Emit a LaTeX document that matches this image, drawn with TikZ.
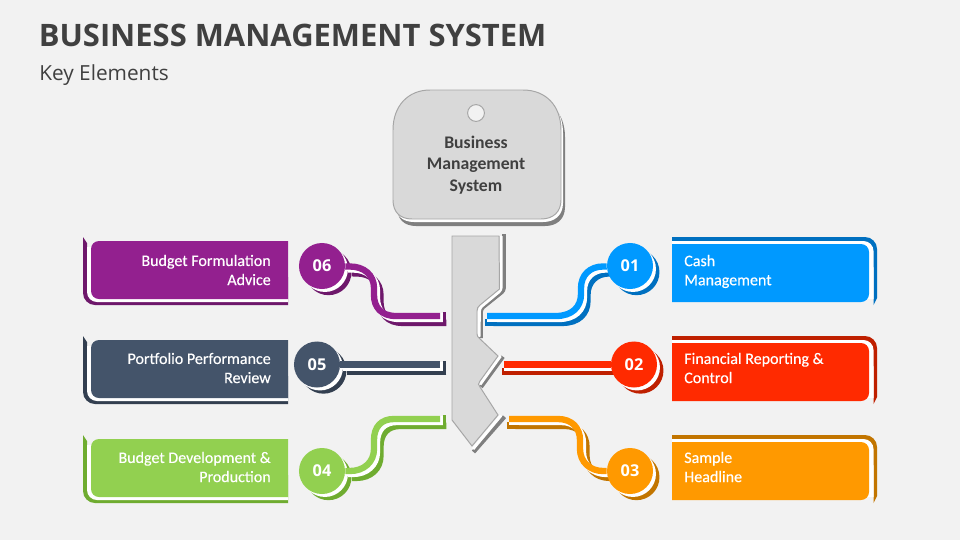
\documentclass[tikz,border=0pt]{standalone}
\usepackage{fontspec}
\setmainfont{Open Sans}
\newfontfamily\labelfont[FakeBold=0.35]{Carlito}
\newfontfamily\headfont{Carlito}
\usetikzlibrary{backgrounds}
\definecolor{bgc}{HTML}{F2F2F2}
\definecolor{inkc}{HTML}{404040}
\definecolor{keyc}{HTML}{D9D9D9}
\definecolor{keyl}{HTML}{A6A6A6}
\definecolor{keyd}{HTML}{7F7F7F}
\definecolor{bluem}{HTML}{0099FF}
\definecolor{blued}{HTML}{0070C0}
\definecolor{redm}{HTML}{FF2A00}
\definecolor{redd}{HTML}{BF2000}
\definecolor{orangem}{HTML}{FF9900}
\definecolor{oranged}{HTML}{C27500}
\definecolor{greenm}{HTML}{92D050}
\definecolor{greend}{HTML}{6FAC30}
\definecolor{slatem}{HTML}{44546A}
\definecolor{slated}{HTML}{333F50}
\definecolor{purplem}{HTML}{93208F}
\definecolor{purpled}{HTML}{6E186B}
\newcommand{\tie}[4]{
\begin{pgfonlayer}{background}
\fill [#2,transform canvas={xshift=4.6pt,yshift=-4.4pt}] (#3) circle (23);
\draw [tieline,draw=#2,transform canvas={xshift=4.6pt,yshift=-4.9pt}] #4;
\fill [white,transform canvas={xshift=2.1pt,yshift=-2.1pt}] (#3) circle (23);
\draw [tieline,draw=white,transform canvas={xshift=2.1pt,yshift=-2.1pt}] #4;
\end{pgfonlayer}
\draw [tieline,draw=#1] #4;
}
\newcommand{\capright}[2]{
\begin{pgfonlayer}{background}
\fill [#2] ([shift={(-2,-3)}]#1) rectangle ([shift={(10,-10)}]#1);
\fill [white] ([shift={(0,-3)}]#1) rectangle ([shift={(10,-6)}]#1);
\end{pgfonlayer}
}
\newcommand{\capleft}[2]{
\begin{pgfonlayer}{background}
\fill [#2] ([shift={(3,4)}]#1) rectangle ([shift={(6,-10)}]#1);
\fill [white] ([shift={(0,3)}]#1) rectangle ([shift={(3,-6)}]#1);
\end{pgfonlayer}
}
\newcommand{\panelright}[3]{
\begin{scope}[shift={(0,-#3)}]
\fill [#2] (672,0) -- (865,0) arc (90:0:12) -- (877,-61) -- (873.5,-68) -- (873.5,-30) -- (672,-30) -- cycle;
\fill [white] (672,-4) -- (863.5,-4) arc (90:0:10) -- (873.5,-62) -- (672,-62) -- cycle;
\fill [#1] (672,-7) -- (861,-7) arc (90:0:8) -- (869,-57) arc (0:-90:8) -- (672,-65) -- cycle;
\end{scope}
}
\newcommand{\panelleft}[3]{
\begin{scope}[shift={(0,-#3)}]
\fill [#2] (83,0) -- (87,-6) -- (87,-40) -- (288,-40) -- (288,-68) -- (95,-68) arc (270:180:12) -- cycle;
\fill [white] (288,-10) -- (288,-65) -- (97,-65) arc (270:180:10) -- (87,-10) -- cycle;
\fill [#1] (288,-4) -- (99,-4) arc (90:180:8) -- (91,-54) arc (180:270:8) -- (288,-62) -- cycle;
\end{scope}
}
\begin{document}
\begin{tikzpicture}[x=0.025cm,y=0.025cm]
\tikzstyle{every node}+=[inner sep=0pt]
\tikzstyle{tieline}=[line width=4.5pt]
\tikzstyle{numdot}=[circle,minimum size=1.15cm,text=white,font=\fontsize{11.6}{14}\selectfont\bfseries]
\tikzstyle{panelright}=[anchor=west,align=left,text=white,font=\labelfont\fontsize{11.4}{13.6}\selectfont]
\tikzstyle{panelleft}=[anchor=east,align=right,text=white,font=\labelfont\fontsize{11.4}{13.6}\selectfont]
\useasboundingbox (0,0) rectangle (960,-540);
\begin{pgfonlayer}{background}
\fill [bgc] (0,0) rectangle (960,-540);
\end{pgfonlayer}
\node (title) [anchor=base west,text=inkc,font=\fontsize{22}{28}\selectfont\bfseries] at (38.5,-46) {BUSINESS MANAGEMENT SYSTEM};
\node (subtitle) [anchor=base west,text=inkc,font=\fontsize{14.8}{18}\selectfont] at (39,-80) {Key Elements};
\fill [keyd,shift={(4,-7)}] (430,-90) -- (523,-90) .. controls (546,-90) and (561,-106) .. (561,-130) -- (561,-200) .. controls (561,-212) and (553,-219) .. (541,-219) -- (412,-219) .. controls (400,-219) and (393,-212) .. (393,-200) -- (393,-130) .. controls (393,-106) and (408,-90) .. (430,-90) -- cycle;
\fill [white,shift={(2,-3)}] (430,-90) -- (523,-90) .. controls (546,-90) and (561,-106) .. (561,-130) -- (561,-200) .. controls (561,-212) and (553,-219) .. (541,-219) -- (412,-219) .. controls (400,-219) and (393,-212) .. (393,-200) -- (393,-130) .. controls (393,-106) and (408,-90) .. (430,-90) -- cycle;
\draw [keyl,fill=keyc,line width=0.7pt] (430,-90) -- (523,-90) .. controls (546,-90) and (561,-106) .. (561,-130) -- (561,-200) .. controls (561,-212) and (553,-219) .. (541,-219) -- (412,-219) .. controls (400,-219) and (393,-212) .. (393,-200) -- (393,-130) .. controls (393,-106) and (408,-90) .. (430,-90) -- cycle;
\node (hole) [circle,draw=keyl,fill=bgc,line width=0.7pt,minimum size=0.42cm] at (476,-113) {};
\node (head) [align=center,text=inkc,font=\headfont\fontsize{12.6}{15.3}\selectfont\bfseries] at (476,-165) {Business\\Management\\System};
\draw [keyd,line width=2.7pt,rounded corners=2pt] (504,-234) -- (504,-290.5) -- (481,-309) -- (481,-338);
\draw [keyd,line width=2.9pt] (503,-356.7) -- (481,-387);
\draw [keyd,line width=3pt] (504.5,-416.7) -- (473.5,-452);
\draw [white,line width=2.1pt,rounded corners=2pt] (501.2,-236) -- (501.2,-290) -- (479.5,-308) -- (479,-337);
\draw [white,line width=2.1pt] (500.5,-356) -- (480,-384.5);
\draw [white,line width=2.1pt] (501,-415.5) -- (473,-449);
\draw [keyl,fill=keyc,line width=0.7pt] (452,-236) -- (499,-236) -- (499.5,-289) -- (480,-305) .. controls (478,-307) and (477,-308) .. (477,-311) -- (477,-334) .. controls (477,-336) and (478,-337) .. (479,-338) -- (498,-356) -- (480,-381) .. controls (478,-383.5) and (478,-385) .. (480,-387) -- (498,-415) -- (472,-446) -- (452,-420) -- cycle;
\coordinate (key01) at (487,-316);
\coordinate (key02) at (504,-364.5);
\coordinate (key03) at (509,-419);
\coordinate (key04) at (440,-419);
\coordinate (key05) at (440,-364.5);
\coordinate (key06) at (440,-316);
\node (dot01) [numdot,fill=bluem] at (630,-266) {01};
\node (dot02) [numdot,fill=redm] at (634,-364.5) {02};
\node (dot03) [numdot,fill=orangem] at (630,-471) {03};
\node (dot04) [numdot,fill=greenm] at (322,-471) {04};
\node (dot05) [numdot,fill=slatem] at (317,-364.5) {05};
\node (dot06) [numdot,fill=purplem] at (322,-266) {06};
\tie{bluem}{blued}{dot01}{(key01) -- (556,-316) .. controls (572,-316) and (581,-307) .. (581,-294) -- (581,-288) .. controls (581,-275) and (590,-266.5) .. (603,-266.5) -- (dot01)}
\tie{redm}{redd}{dot02}{(key02) -- (dot02)}
\tie{orangem}{oranged}{dot03}{(key03) -- (558,-419) .. controls (572,-419) and (580,-428) .. (580,-440) -- (580,-449) .. controls (580,-462) and (590,-471) .. (603,-471) -- (dot03)}
\tie{greenm}{greend}{dot04}{(key04) -- (394,-419) .. controls (381,-419) and (374,-427) .. (374,-440) -- (374,-449) .. controls (374,-462) and (364,-471) .. (350,-471) -- (dot04)}
\tie{slatem}{slated}{dot05}{(key05) -- (dot05)}
\tie{purplem}{purpled}{dot06}{(key06) -- (396,-316) .. controls (381,-316) and (374,-307) .. (374,-295) -- (374,-288) .. controls (374,-275) and (364,-266.5) .. (350,-266.5) -- (dot06)}
\capright{key01}{blued}
\capright{key02}{redd}
\capright{key03}{oranged}
\capleft{key04}{greend}
\capleft{key05}{slated}
\capleft{key06}{purpled}
\panelright{bluem}{blued}{237}
\panelright{redm}{redd}{336}
\panelright{orangem}{oranged}{435}
\panelleft{greenm}{greend}{435}
\panelleft{slatem}{slated}{336}
\panelleft{purplem}{purpled}{237}
\node (label01) [panelright] at (684,-271.5) {Cash\\Management};
\node (label02) [panelright] at (684,-368) {Financial Reporting \&\\Control};
\node (label03) [panelright] at (684,-467) {Sample\\Headline};
\node (label04) [panelleft] at (271,-467) {Budget Development \&\\Production};
\node (label05) [panelleft] at (271,-368) {Portfolio Performance\\Review};
\node (label06) [panelleft] at (271,-270) {Budget Formulation\\Advice};
\end{tikzpicture}
\end{document}
